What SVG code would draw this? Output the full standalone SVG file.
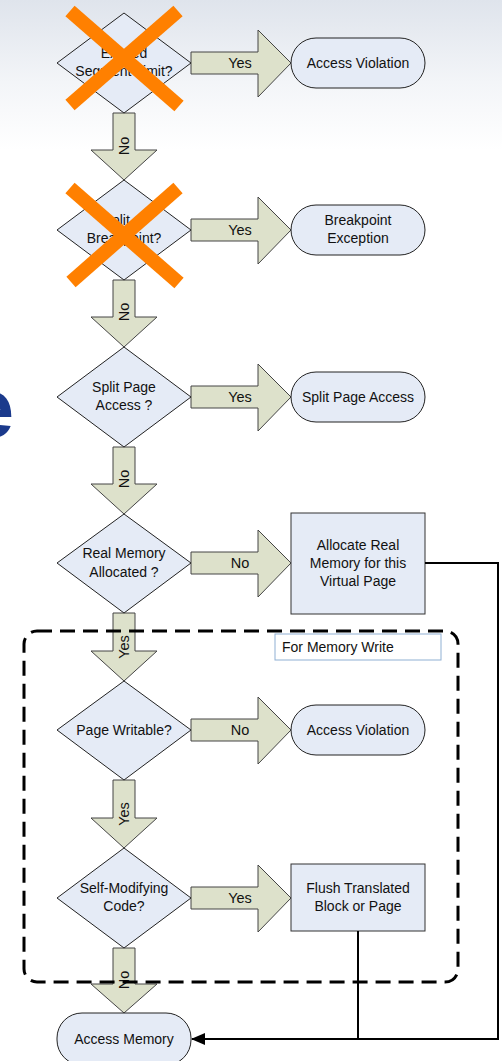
<svg xmlns="http://www.w3.org/2000/svg" width="502" height="1061" viewBox="0 0 502 1061">
  <defs>
    <linearGradient id="bg" x1="0" y1="0" x2="0" y2="1">
      <stop offset="0" stop-color="#dfe4ec"/>
      <stop offset="0.55" stop-color="#f3f5f8"/>
      <stop offset="1" stop-color="#ffffff"/>
    </linearGradient>
    <marker id="arrowhead" markerWidth="14" markerHeight="12" refX="13" refY="6" orient="auto" markerUnits="userSpaceOnUse">
      <path d="M0,0 L14,6 L0,12 Z" fill="#000"/>
    </marker>
    <style>
      text { font-family: "Liberation Sans", Arial, sans-serif; fill: #111; }
      .lbl { font-size: 14px; text-anchor: middle; }
      .arrowlbl { font-size: 14.5px; text-anchor: middle; }
      .decision { fill: #e5ebf6; stroke: #222; stroke-width: 1; }
      .terminal { fill: #e5ebf6; stroke: #222; stroke-width: 1; }
      .process { fill: #e5ebf6; stroke: #333; stroke-width: 1; }
      .flow { fill: #dde1cb; stroke: #444; stroke-width: 1; }
      .cross { stroke: #ff8000; stroke-width: 14; stroke-linecap: butt; }
      .wire { fill: none; stroke: #000; stroke-width: 2; }
      .region { fill: none; stroke: #000; stroke-width: 3; stroke-dasharray: 15 8; }
    </style>
  </defs>

  <!-- slide background -->
  <rect x="0" y="0" width="502" height="1061" fill="#fff"/>
  <rect x="0" y="0" width="502" height="150" fill="url(#bg)"/>
  <text x="-32" y="437" font-size="83" font-weight="bold" style="fill:#1b3a8c">e</text>

  <!-- downward flow arrows -->
  <g id="down-arrows">
    <g id="down1"><polygon class="flow" points="113,113 135,113 135,150 157,150 124,180 91,150 113,150"/>
      <text class="arrowlbl" transform="translate(129,146) rotate(-90)">No</text></g>
    <g id="down2"><polygon class="flow" points="113,280 135,280 135,317 157,317 124,347 91,317 113,317"/>
      <text class="arrowlbl" transform="translate(129,312) rotate(-90)">No</text></g>
    <g id="down3"><polygon class="flow" points="113,447 135,447 135,484 157,484 124,514 91,484 113,484"/>
      <text class="arrowlbl" transform="translate(129,479) rotate(-90)">No</text></g>
    <g id="down4"><polygon class="flow" points="113,613 135,613 135,651 157,651 124,681 91,651 113,651"/>
      <text class="arrowlbl" transform="translate(129,647) rotate(-90)">Yes</text></g>
    <g id="down5"><polygon class="flow" points="113,780 135,780 135,818 157,818 124,848 91,818 113,818"/>
      <text class="arrowlbl" transform="translate(129,814) rotate(-90)">Yes</text></g>
    <g id="down6"><polygon class="flow" points="113,948 135,948 135,984 157,984 124,1013 91,984 113,984"/>
      <text class="arrowlbl" transform="translate(129,980) rotate(-90)">No</text></g>
  </g>

  <!-- rightward flow arrows -->
  <g id="right-arrows">
    <g id="right1"><polygon class="flow" points="191,52 258,52 258,30 291,63 258,97 258,74 191,74"/>
      <text class="arrowlbl" x="240" y="68">Yes</text></g>
    <g id="right2"><polygon class="flow" points="191,219 258,219 258,197 291,230 258,264 258,241 191,241"/>
      <text class="arrowlbl" x="240" y="235">Yes</text></g>
    <g id="right3"><polygon class="flow" points="191,386 258,386 258,364 291,397 258,431 258,408 191,408"/>
      <text class="arrowlbl" x="240" y="402">Yes</text></g>
    <g id="right4"><polygon class="flow" points="191,552 258,552 258,530 291,563 258,597 258,574 191,574"/>
      <text class="arrowlbl" x="240" y="568">No</text></g>
    <g id="right5"><polygon class="flow" points="191,719 258,719 258,697 291,730 258,764 258,741 191,741"/>
      <text class="arrowlbl" x="240" y="735">No</text></g>
    <g id="right6"><polygon class="flow" points="191,887 258,887 258,865 291,898 258,932 258,909 191,909"/>
      <text class="arrowlbl" x="240" y="903">Yes</text></g>
  </g>

  <!-- decisions -->
  <g id="segment-limit">
    <polygon class="decision" points="124,13 191,63 124,113 57,63"/>
    <text class="lbl" x="124" y="58">Exceed</text>
    <text class="lbl" x="124" y="76">Segment Limit?</text>
  </g>
  <g id="split-breakpoint">
    <polygon class="decision" points="124,180 191,230 124,280 57,230"/>
    <text class="lbl" x="124" y="225">Split at</text>
    <text class="lbl" x="124" y="243">Breakpoint?</text>
  </g>
  <g id="split-page">
    <polygon class="decision" points="124,347 191,397 124,447 57,397"/>
    <text class="lbl" x="124" y="392">Split Page</text>
    <text class="lbl" x="124" y="410">Access ?</text>
  </g>
  <g id="real-memory">
    <polygon class="decision" points="124,514 191,563 124,613 57,563"/>
    <text class="lbl" x="124" y="558">Real Memory</text>
    <text class="lbl" x="124" y="577">Allocated ?</text>
  </g>
  <g id="page-writable">
    <polygon class="decision" points="124,681 191,730 124,780 57,730"/>
    <text class="lbl" x="124" y="735">Page Writable?</text>
  </g>
  <g id="self-modifying">
    <polygon class="decision" points="124,848 191,898 124,948 57,898"/>
    <text class="lbl" x="124" y="893">Self-Modifying</text>
    <text class="lbl" x="124" y="911">Code?</text>
  </g>

  <!-- disabled checks -->
  <g id="disabled-marks">
    <line class="cross" x1="70" y1="11" x2="179" y2="106"/>
    <line class="cross" x1="178" y1="11" x2="70" y2="105"/>
    <line class="cross" x1="70" y1="188" x2="179" y2="283"/>
    <line class="cross" x1="178" y1="188" x2="71" y2="282"/>
  </g>

  <!-- outcomes -->
  <g id="access-violation-1">
    <rect class="terminal" x="291" y="38" width="134" height="50" rx="25"/>
    <text class="lbl" x="358" y="68">Access Violation</text>
  </g>
  <g id="breakpoint-exception">
    <rect class="terminal" x="291" y="205" width="134" height="50" rx="25"/>
    <text class="lbl" x="358" y="225">Breakpoint</text>
    <text class="lbl" x="358" y="243">Exception</text>
  </g>
  <g id="split-page-access">
    <rect class="terminal" x="291" y="372" width="134" height="50" rx="25"/>
    <text class="lbl" x="358" y="402">Split Page Access</text>
  </g>
  <g id="allocate-memory">
    <rect class="process" x="291" y="513" width="134" height="101"/>
    <text class="lbl" x="358" y="550">Allocate Real</text>
    <text class="lbl" x="358" y="568">Memory for this</text>
    <text class="lbl" x="358" y="586">Virtual Page</text>
  </g>
  <g id="access-violation-2">
    <rect class="terminal" x="291" y="705" width="134" height="50" rx="25"/>
    <text class="lbl" x="358" y="735">Access Violation</text>
  </g>
  <g id="flush-block">
    <rect class="process" x="291" y="864" width="134" height="67"/>
    <text class="lbl" x="358" y="893">Flush Translated</text>
    <text class="lbl" x="358" y="911">Block or Page</text>
  </g>
  <g id="access-memory">
    <rect class="terminal" x="57" y="1013" width="134" height="52" rx="25"/>
    <text class="lbl" x="124" y="1044">Access Memory</text>
  </g>

  <!-- return paths -->
  <g id="connectors">
    <polyline class="wire" points="425,563 498,563 498,1039 358,1039"/>
    <line class="wire" x1="358" y1="931" x2="358" y2="1039"/>
    <line class="wire" x1="358" y1="1039" x2="192" y2="1039" marker-end="url(#arrowhead)"/>
  </g>

  <!-- memory-write region -->
  <g id="write-region">
    <rect class="region" x="24" y="631" width="434" height="351" rx="13"/>
    <rect x="275" y="634" width="166" height="26" fill="#fff" stroke="#8fb0d3" stroke-width="1"/>
    <text x="282" y="652" font-size="14">For Memory Write</text>
  </g>
</svg>
